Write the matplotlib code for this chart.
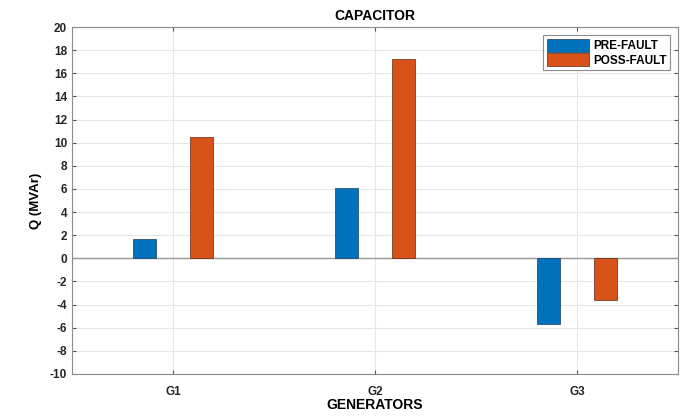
import matplotlib
matplotlib.use("Agg")
import matplotlib.pyplot as plt
import numpy as np

generators = ["G1", "G2", "G3"]
pre_fault = [1.7, 6.1, -5.7]
poss_fault = [10.5, 17.2, -3.6]

plt.rcParams["font.family"] = ["Liberation Sans", "DejaVu Sans"]
plt.rcParams["font.weight"] = "bold"
plt.rcParams["axes.unicode_minus"] = False

fig = plt.figure(figsize=(6.92, 4.16), dpi=100)
ax = fig.add_axes([0.104, 0.101, 0.876, 0.834])

x = np.arange(1, len(generators) + 1)
w = 0.115
ax.bar(x - 0.142, pre_fault, w, color="#0072BD", edgecolor="#1a3d5c", linewidth=0.5,
       label="PRE-FAULT", zorder=3)
ax.bar(x + 0.142, poss_fault, w, color="#D95319", edgecolor="#5c2a10", linewidth=0.5,
       label="POSS-FAULT", zorder=3)
ax.axhline(0, color="#9a9a9a", linewidth=1.0, zorder=2)

ax.set_xlim(0.5, 3.5)
ax.set_ylim(-10, 20)
ax.set_xticks(x)
ax.set_xticklabels(generators)
ax.set_yticks(np.arange(-10, 21, 2))
ax.tick_params(direction="in", labelsize=8.5, length=3, color="#555555",
               right=True, top=True, labelcolor="#262626")
ax.tick_params(axis="x", pad=9)
ax.grid(True, color="#e6e6e6", linewidth=0.8, zorder=0)
ax.set_axisbelow(True)
for s in ax.spines.values():
    s.set_color("#8c8c8c")

ax.set_title("CAPACITOR", fontsize=10, fontweight="bold", pad=5)
ax.set_xlabel("GENERATORS", fontsize=10, fontweight="bold", labelpad=0)
ax.set_ylabel("Q (MVAr)", fontsize=9.5, fontweight="bold", labelpad=6)

leg = ax.legend(loc="upper right", fontsize=8.5, fancybox=False, framealpha=1,
                edgecolor="#8c8c8c", handlelength=3.6, handleheight=1.3,
                borderaxespad=0.7, handletextpad=0.3, labelspacing=0.1,
                borderpad=0.3)
leg.get_frame().set_linewidth(0.8)

fig.savefig("out.png", dpi=100)
plt.close(fig)
